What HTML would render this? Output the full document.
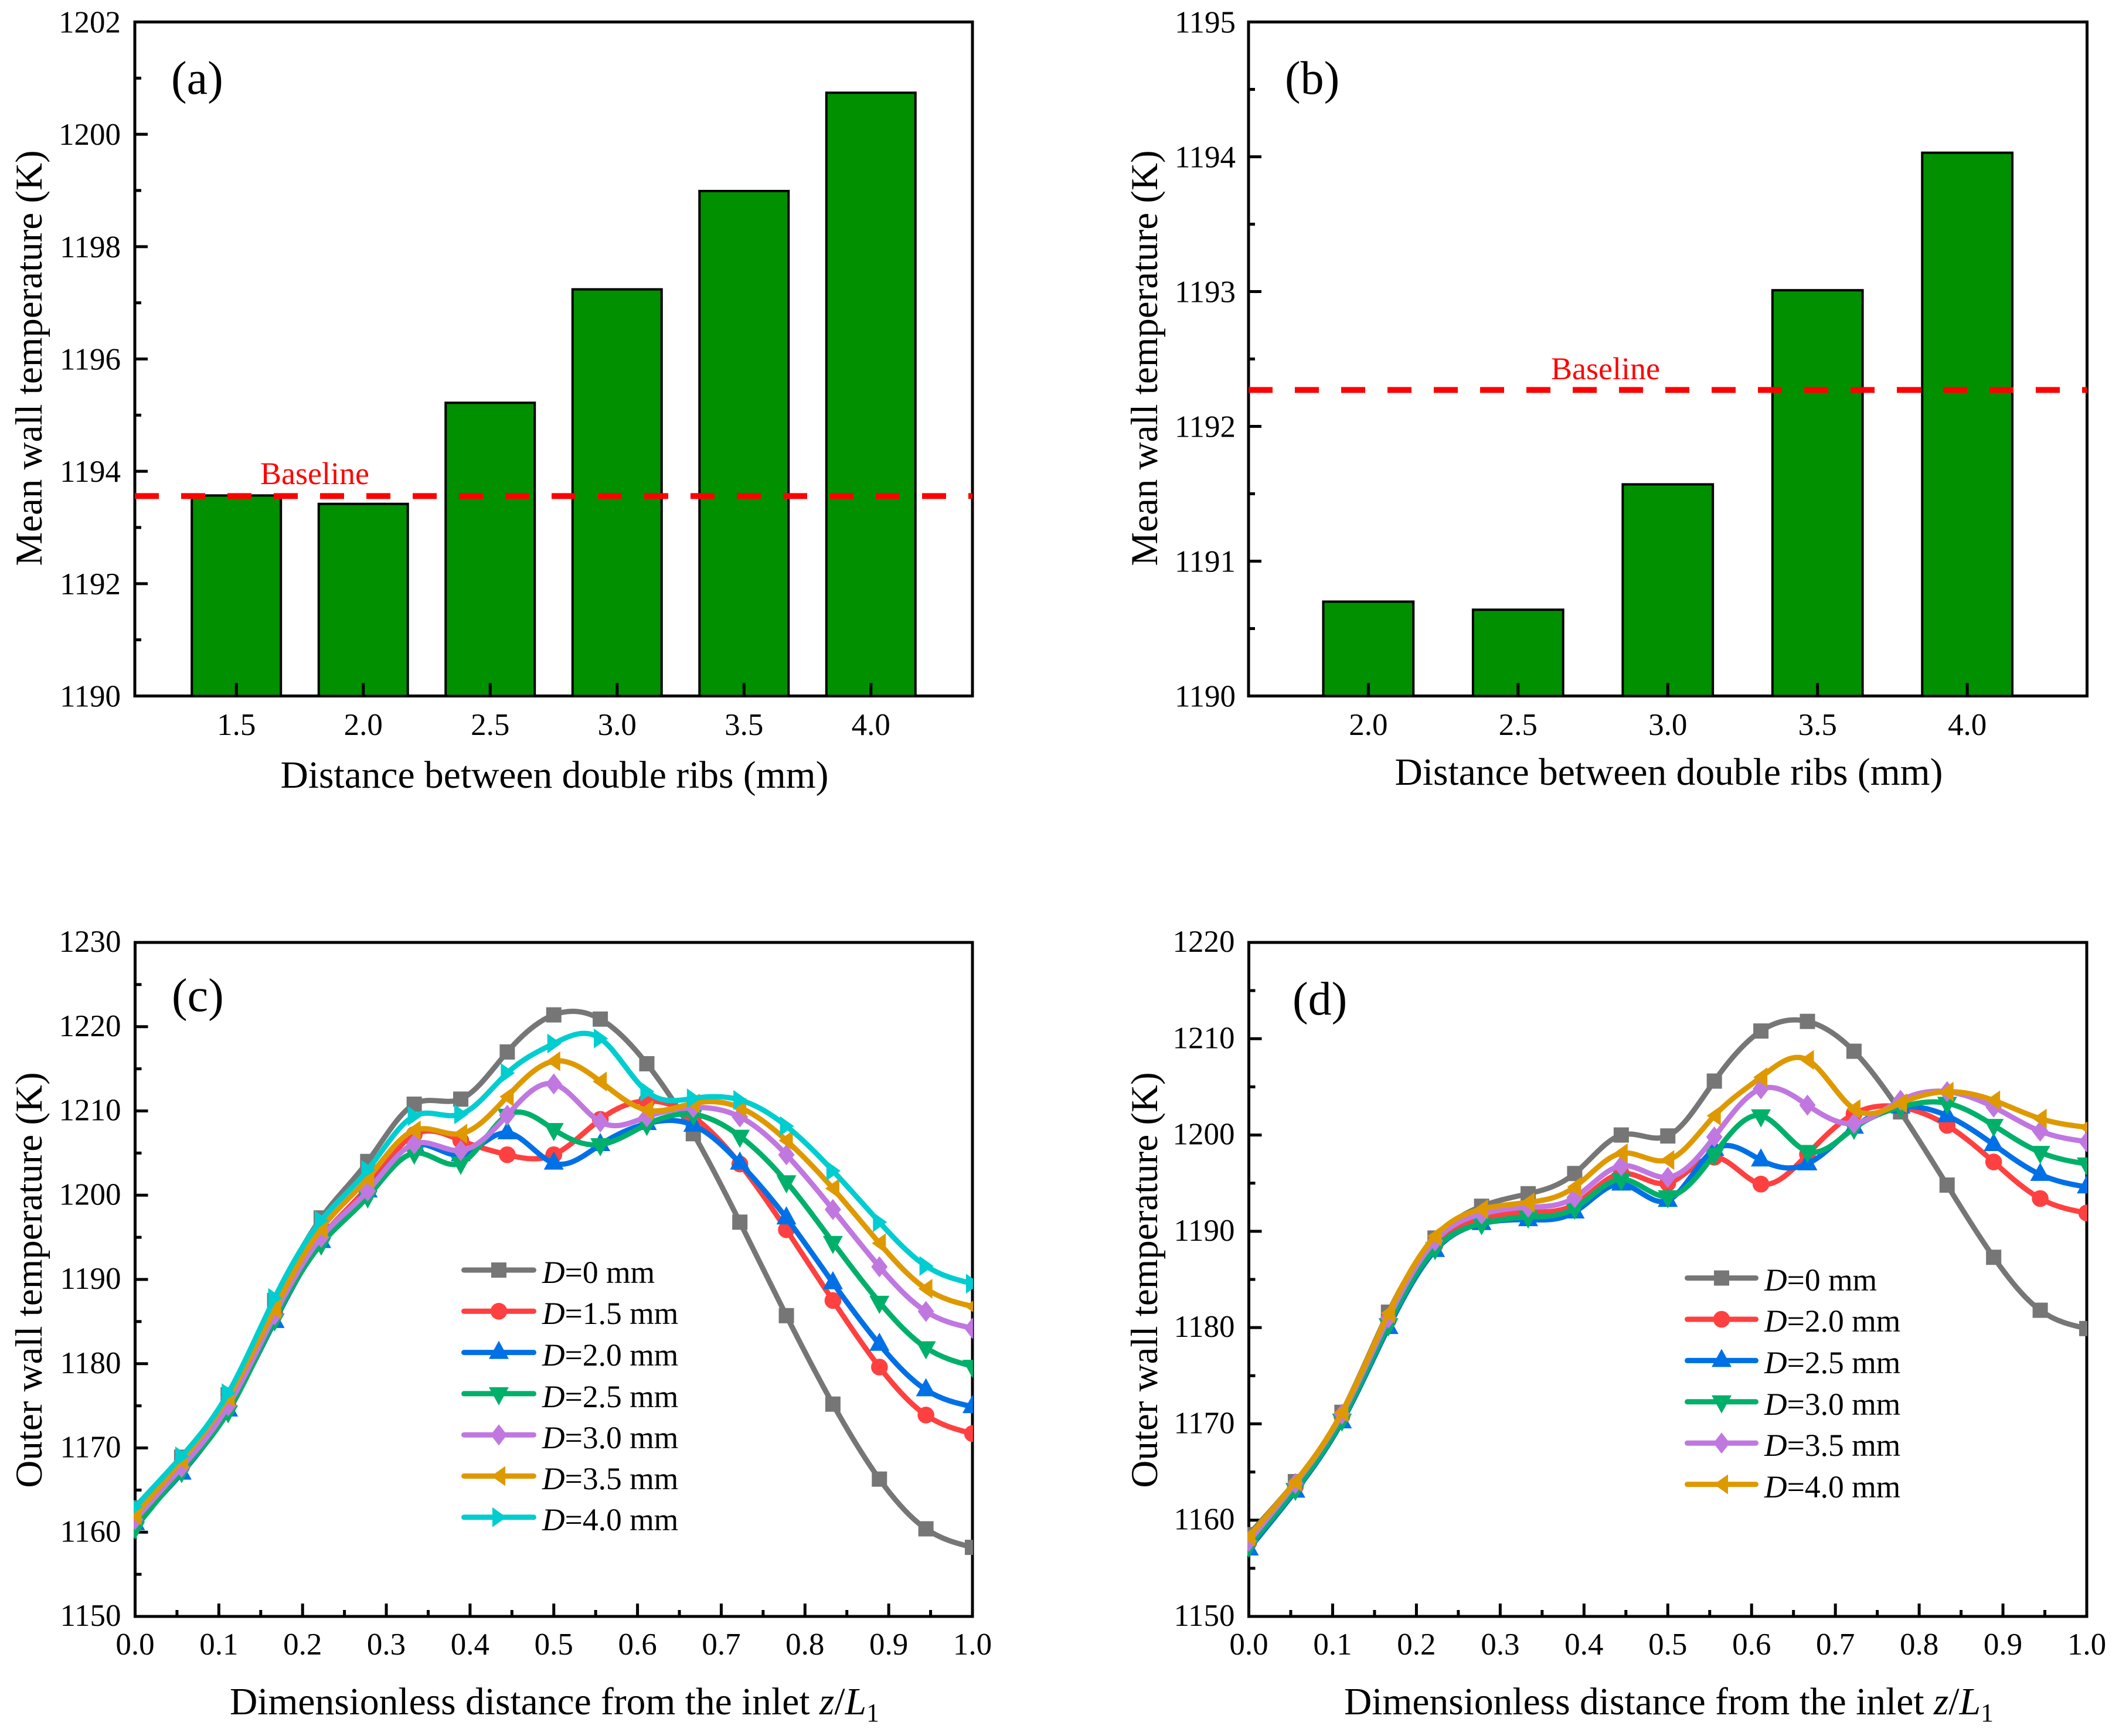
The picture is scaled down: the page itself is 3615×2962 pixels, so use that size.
<!DOCTYPE html>
<html lang="en">
<head>
<meta charset="utf-8">
<title>Wall temperature charts</title>
<style>
html,body{margin:0;padding:0;background:#fff;}
svg{display:block;}
text{font-family:"Liberation Serif",serif;fill:#000;}
</style>
</head>
<body>
<svg id="figure" xmlns="http://www.w3.org/2000/svg" width="3615" height="2962" viewBox="0 0 3615 2962">
<rect width="3615" height="2962" fill="#fff"/>
<g id="panel-a"></g>
<g id="panel-b"></g>
<g id="panel-c"></g>
<g id="panel-d"></g>

<text x="292" y="160" font-size="80">(a)</text>
<text x="2192" y="160" font-size="80">(b)</text>
<text x="293" y="1725" font-size="80">(c)</text>
<text x="2205" y="1731" font-size="80">(d)</text>

<text x="946" y="1344" font-size="65.5" text-anchor="middle">Distance between double ribs (mm)</text>
<text x="2847" y="1339" font-size="65.5" text-anchor="middle">Distance between double ribs (mm)</text>
<text x="946" y="2925" font-size="65.5" text-anchor="middle">Dimensionless distance from the inlet <tspan font-style="italic">z</tspan>/<tspan font-style="italic">L</tspan><tspan font-size="44" dy="12">1</tspan></text>
<text x="2847" y="2925" font-size="65.5" text-anchor="middle">Dimensionless distance from the inlet <tspan font-style="italic">z</tspan>/<tspan font-style="italic">L</tspan><tspan font-size="44" dy="12">1</tspan></text>

<text transform="translate(71,611) rotate(-90)" font-size="65" text-anchor="middle">Mean wall temperature (K)</text>
<text transform="translate(1974,611) rotate(-90)" font-size="65" text-anchor="middle">Mean wall temperature (K)</text>
<text transform="translate(71,2184) rotate(-90)" font-size="65" text-anchor="middle">Outer wall temperature (K)</text>
<text transform="translate(1974,2184) rotate(-90)" font-size="65" text-anchor="middle">Outer wall temperature (K)</text>

<text x="537" y="826" font-size="54" text-anchor="middle" style="fill:#ff0000">Baseline</text>
<text x="2739" y="647" font-size="54" text-anchor="middle" style="fill:#ff0000">Baseline</text>

<g font-size="53.5">
<text x="925" y="2189"><tspan font-style="italic">D</tspan>=0 mm</text>
<text x="925" y="2259"><tspan font-style="italic">D</tspan>=1.5 mm</text>
<text x="925" y="2330"><tspan font-style="italic">D</tspan>=2.0 mm</text>
<text x="925" y="2401"><tspan font-style="italic">D</tspan>=2.5 mm</text>
<text x="925" y="2471"><tspan font-style="italic">D</tspan>=3.0 mm</text>
<text x="925" y="2541"><tspan font-style="italic">D</tspan>=3.5 mm</text>
<text x="925" y="2611"><tspan font-style="italic">D</tspan>=4.0 mm</text>
</g>
<g font-size="53.5">
<text x="3010" y="2202"><tspan font-style="italic">D</tspan>=0 mm</text>
<text x="3010" y="2272"><tspan font-style="italic">D</tspan>=2.0 mm</text>
<text x="3010" y="2343"><tspan font-style="italic">D</tspan>=2.5 mm</text>
<text x="3010" y="2414"><tspan font-style="italic">D</tspan>=3.0 mm</text>
<text x="3010" y="2484"><tspan font-style="italic">D</tspan>=3.5 mm</text>
<text x="3010" y="2555"><tspan font-style="italic">D</tspan>=4.0 mm</text>
</g>
</svg>
<script>
// ---- Panel (a) data ----
const barACategories = ['1.5','2.0','2.5','3.0','3.5','4.0'];
const barAValues = [1193.57,1193.42,1195.22,1197.24,1198.99,1200.74];
const barABaseline = 1193.56;
const barAYTicks = ['1190','1192','1194','1196','1198','1200','1202'];
// ---- Panel (b) data ----
const barBCategories = ['2.0','2.5','3.0','3.5','4.0'];
const barBValues = [1190.70,1190.64,1191.57,1193.01,1194.03];
const barBBaseline = 1192.27;
const barBYTicks = ['1190','1191','1192','1193','1194','1195'];
// ---- Line panels shared ----
const lineXTicks = ['0.0','0.1','0.2','0.3','0.4','0.5','0.6','0.7','0.8','0.9','1.0'];
const lineXPositions = ['0','1/18','2/18','3/18','4/18','5/18','6/18','7/18','8/18','9/18','10/18','11/18','12/18','13/18','14/18','15/18','16/18','17/18','1'];
// ---- Panel (c) data ----
const lineCYTicks = ['1150','1160','1170','1180','1190','1200','1210','1220','1230'];
const cD0 = [1162.9,1168.9,1176.3,1187.5,1197.3,1204,1210.8,1211.4,1217,1221.4,1220.9,1215.6,1207.3,1196.8,1185.7,1175.2,1166.3,1160.4,1158.2];
const cD15 = [1161.5,1167.8,1175,1186,1195,1201,1207.2,1206.5,1204.8,1204.8,1209,1211.2,1209.3,1203.7,1195.9,1187.5,1179.6,1173.9,1171.7];
const cD20 = [1161,1167,1174.5,1185,1194.5,1200.5,1206,1204.8,1207.4,1203.8,1206,1208.5,1208.3,1203.8,1197.3,1189.6,1182.3,1176.9,1174.9];
const cD25 = [1160.5,1167.2,1174.3,1185.2,1194.2,1199.8,1205,1203.8,1209.5,1207.8,1206,1208.4,1209.6,1207,1201.6,1194.4,1187.3,1181.9,1179.7];
const cD30 = [1161.5,1167.7,1175,1185.8,1195,1200.5,1206.1,1205.3,1209.5,1213.2,1208.7,1209.3,1210.4,1209.3,1204.8,1198.3,1191.5,1186.2,1184.2];
const cD35 = [1162,1168.5,1176,1186.5,1196,1202,1207.7,1207.3,1211.7,1215.9,1213.5,1210.1,1210.9,1210.4,1206.5,1200.8,1194.3,1188.9,1186.8];
const cD40 = [1163,1169,1176.5,1187.8,1197,1203,1209.4,1209.6,1214.5,1218,1218.6,1212.3,1211.5,1211.3,1208.2,1202.9,1196.8,1191.6,1189.5];
// ---- Panel (d) data ----
const lineDYTicks = ['1150','1160','1170','1180','1190','1200','1210','1220'];
const dD0 = [1158.5,1164,1171.2,1181.6,1189.3,1192.6,1193.9,1196,1200,1199.9,1205.6,1210.8,1211.8,1208.7,1202.4,1194.8,1187.3,1181.8,1179.9];
const dD20 = [1157.7,1163.5,1170.8,1180.8,1188.6,1191.3,1192,1192.8,1196,1195,1197.7,1194.9,1198,1202.2,1202.9,1201,1197.2,1193.4,1191.9];
const dD25 = [1157,1163,1170.2,1180,1188,1190.8,1191.2,1192,1194.9,1193.2,1198.5,1197.4,1197,1200.8,1202.9,1202,1199,1195.9,1194.6];
const dD30 = [1157.3,1163.2,1170.4,1180.3,1188.2,1190.8,1191.5,1192.4,1195.4,1193.6,1198,1202,1198.3,1200.7,1202.9,1203.3,1201,1198.2,1197];
const dD35 = [1157.8,1163.8,1171,1181,1189,1191.8,1192.5,1193.5,1196.8,1195.6,1199.8,1204.8,1203.1,1201.2,1203.6,1204.5,1202.9,1200.4,1199.3];
const dD40 = [1158.3,1164,1171.2,1181.5,1189.5,1192.3,1193,1194.6,1198.1,1197.4,1202,1206,1207.8,1202.7,1203.3,1204.5,1203.6,1201.7,1200.8];

const NS = 'http://www.w3.org/2000/svg';
const COLORS = {gray:'#767676',red:'#ff4040',blue:'#0070e6',green:'#00b06a',purple:'#c078e0',orange:'#de9900',cyan:'#00cdd0'};
const AXIS_W = 5, MAJOR = 22, MINOR = 11;

function make(tag, parent, attrs){
  const el = document.createElementNS(NS, tag);
  for (const k in attrs) el.setAttribute(k, attrs[k]);
  parent.appendChild(el);
  return el;
}
function linear(d0, d1, r0, r1){
  return function(v){ return r0 + (v - d0) * (r1 - r0) / (d1 - d0); };
}
// Natural cubic spline through evenly spaced points, emitted as Beziers.
function splinePath(pts){
  const n = pts.length;
  const a = new Array(n).fill(1), b = new Array(n).fill(4), r = new Array(n);
  b[0] = 2; b[n - 1] = 2;
  for (let i = 0; i < n; i++){
    if (i === 0) r[i] = 3 * (pts[1][1] - pts[0][1]);
    else if (i === n - 1) r[i] = 3 * (pts[n - 1][1] - pts[n - 2][1]);
    else r[i] = 3 * (pts[i + 1][1] - pts[i - 1][1]);
  }
  for (let i = 1; i < n; i++){
    const w = a[i] / b[i - 1];
    b[i] -= w;
    r[i] -= w * r[i - 1];
  }
  const m = new Array(n);
  m[n - 1] = r[n - 1] / b[n - 1];
  for (let i = n - 2; i >= 0; i--) m[i] = (r[i] - m[i + 1]) / b[i];
  let d = 'M' + pts[0][0] + ' ' + pts[0][1];
  for (let i = 0; i < n - 1; i++){
    const h = pts[i + 1][0] - pts[i][0];
    d += 'C' + (pts[i][0] + h / 3) + ' ' + (pts[i][1] + m[i] / 3) + ' ' +
         (pts[i + 1][0] - h / 3) + ' ' + (pts[i + 1][1] - m[i + 1] / 3) + ' ' +
         pts[i + 1][0] + ' ' + pts[i + 1][1];
  }
  return d;
}
function markerShape(parent, kind, cx, cy, color){
  let el;
  if (kind === 'square'){
    el = make('rect', parent, {x:cx - 13, y:cy - 13, width:26, height:26, fill:color});
  } else if (kind === 'circle'){
    el = make('circle', parent, {cx:cx, cy:cy, r:14.3, fill:color});
  } else {
    const shapes = {
      up:[[0,-20],[17,11],[-17,11]],
      down:[[0,20],[17,-11],[-17,-11]],
      diamond:[[0,-18],[14,0],[0,18],[-14,0]],
      left:[[-13,0],[11,-17],[11,17]],
      right:[[13,0],[-11,-17],[-11,17]]
    };
    const pts = shapes[kind].map(function(p){ return (cx + p[0]) + ',' + (cy + p[1]); }).join(' ');
    el = make('polygon', parent, {points:pts, fill:color});
  }
  return el;
}
function frame(parent, box){
  const el = make('rect', parent, {x:box.l, y:box.t, width:box.r - box.l, height:box.b - box.t, fill:'none', stroke:'#000', 'stroke-width':AXIS_W});
  
  
}
function xTick(parent, x, box, len){
  const el = make('line', parent, {x1:x, x2:x, y1:box.b, y2:box.b - len, stroke:'#000', 'stroke-width':AXIS_W});
  
  
}
function yTick(parent, y, box, len){
  const el = make('line', parent, {x1:box.l, x2:box.l + len, y1:y, y2:y, stroke:'#000', 'stroke-width':AXIS_W});
  
  
}
function xLabel(parent, x, y, str){
  const el = make('text', parent, {x:x, y:y, 'font-size':53, 'text-anchor':'middle'});
  el.textContent = str;
  
  
}
function yLabel(parent, x, y, str){
  const el = make('text', parent, {x:x, y:y, 'font-size':53, 'text-anchor':'end'});
  el.textContent = str;
  
  
}
function yAxis(parent, box, labels, sy, labelX, labelDy){
  labels.forEach(function(str, i){
    const v = parseFloat(str);
    if (i > 0 && i < labels.length) yTick(parent, sy(v), box, MAJOR);
    yLabel(parent, labelX, sy(v) + labelDy, str);
    if (i < labels.length - 1){
      const mid = (v + parseFloat(labels[i + 1])) / 2;
      yTick(parent, sy(mid), box, MINOR);
    }
  });
}
function barPanel(id, box, xMin, xMax, yLabels, cats, vals, base, widthData, labelX){
  const g = document.getElementById(id);
  const yMin = parseFloat(yLabels[0]), yMax = parseFloat(yLabels[yLabels.length - 1]);
  const sx = linear(xMin, xMax, box.l, box.r);
  const sy = linear(yMin, yMax, box.b, box.t);
  const w = sx(xMin + widthData) - sx(xMin);
  frame(g, box);
  cats.forEach(function(c, i){
    const cx = sx(parseFloat(c));
    const bar = make('rect', g, {x:cx - w / 2, y:sy(vals[i]), width:w, height:box.b - sy(vals[i]), fill:'#009000', stroke:'#000', 'stroke-width':4});
    
    
  });
  cats.forEach(function(c){
    const cx = sx(parseFloat(c));
    xTick(g, cx, box, MAJOR);
    xLabel(g, cx, 1254, c);
  });
  yAxis(g, box, yLabels, sy, labelX, 18);
  const ln = make('line', g, {x1:box.l, x2:box.r, y1:sy(base), y2:sy(base), stroke:'#ff0000', 'stroke-width':10, 'stroke-dasharray':'41 38'});
  
  
}
function linePanel(id, box, yLabels, series, legend){
  const g = document.getElementById(id);
  const yMin = parseFloat(yLabels[0]), yMax = parseFloat(yLabels[yLabels.length - 1]);
  const sx = linear(0, 1, box.l, box.r);
  const sy = linear(yMin, yMax, box.b, box.t);
  frame(g, box);
  lineXTicks.forEach(function(str, i){
    const v = parseFloat(str);
    if (i > 0 && i < lineXTicks.length - 1) xTick(g, sx(v), box, MAJOR);
    xLabel(g, sx(v), 2823, str);
    if (i < lineXTicks.length - 1){
      xTick(g, sx((v + parseFloat(lineXTicks[i + 1])) / 2), box, MINOR);
    }
  });
  yAxis(g, box, yLabels, sy, box.l - 24, 16);
  const clip = make('clipPath', g, {id:id + '-clip'});
  make('rect', clip, {x:box.l - 2.5, y:box.t, width:box.r - box.l + 3.5, height:box.b - box.t});
  const plot = make('g', g, {'clip-path':'url(#' + id + '-clip)'});
  
  
  series.forEach(function(s){
    const sg = make('g', plot, {});
    
    
    const pts = s.values.map(function(v, i){
      const parts = lineXPositions[i].split('/');
      const xv = parts.length > 1 ? parts[0] / parts[1] : +parts[0];
      return [sx(xv), sy(v)];
    });
    const path = make('path', sg, {d:splinePath(pts), fill:'none', stroke:s.color, 'stroke-width':9, 'stroke-linejoin':'round'});
    
    
    pts.forEach(function(p){
      const m = markerShape(sg, s.marker, p[0], p[1], s.color);
      
      
    });
  });
  series.forEach(function(s, i){
    const lg = make('g', g, {});
    
    
    const y = legend.y + i * legend.step;
    make('line', lg, {x1:legend.x0 + 4.5, x2:legend.x1 - 4.5, y1:y, y2:y, stroke:s.color, 'stroke-width':9, 'stroke-linecap':'round'});
    markerShape(lg, s.marker, (legend.x0 + legend.x1) / 2, y, s.color);
  });
}

barPanel('panel-a', {l:230,r:1659,t:37.5,b:1187.5}, 1.1, 4.4, barAYTicks, barACategories, barAValues, barABaseline, 0.351, 206);
barPanel('panel-b', {l:2130,r:3560.5,t:37.5,b:1187.5}, 1.6, 4.4, barBYTicks, barBCategories, barBValues, barBBaseline, 0.301, 2108);

linePanel('panel-c', {l:230.5,r:1659,t:1608,b:2758}, lineCYTicks, [
  {name:'d0',values:cD0,color:COLORS.gray,marker:'square'},
  {name:'d1-5',values:cD15,color:COLORS.red,marker:'circle'},
  {name:'d2-0',values:cD20,color:COLORS.blue,marker:'up'},
  {name:'d2-5',values:cD25,color:COLORS.green,marker:'down'},
  {name:'d3-0',values:cD30,color:COLORS.purple,marker:'diamond'},
  {name:'d3-5',values:cD35,color:COLORS.orange,marker:'left'},
  {name:'d4-0',values:cD40,color:COLORS.cyan,marker:'right'}
], {x0:787,x1:915,y:2167,step:70.3});

linePanel('panel-d', {l:2130.5,r:3560,t:1608,b:2758}, lineDYTicks, [
  {name:'d0',values:dD0,color:COLORS.gray,marker:'square'},
  {name:'d2-0',values:dD20,color:COLORS.red,marker:'circle'},
  {name:'d2-5',values:dD25,color:COLORS.blue,marker:'up'},
  {name:'d3-0',values:dD30,color:COLORS.green,marker:'down'},
  {name:'d3-5',values:dD35,color:COLORS.purple,marker:'diamond'},
  {name:'d4-0',values:dD40,color:COLORS.orange,marker:'left'}
], {x0:2874,x1:3000,y:2180.6,step:70.4});
</script>
</body>
</html>
